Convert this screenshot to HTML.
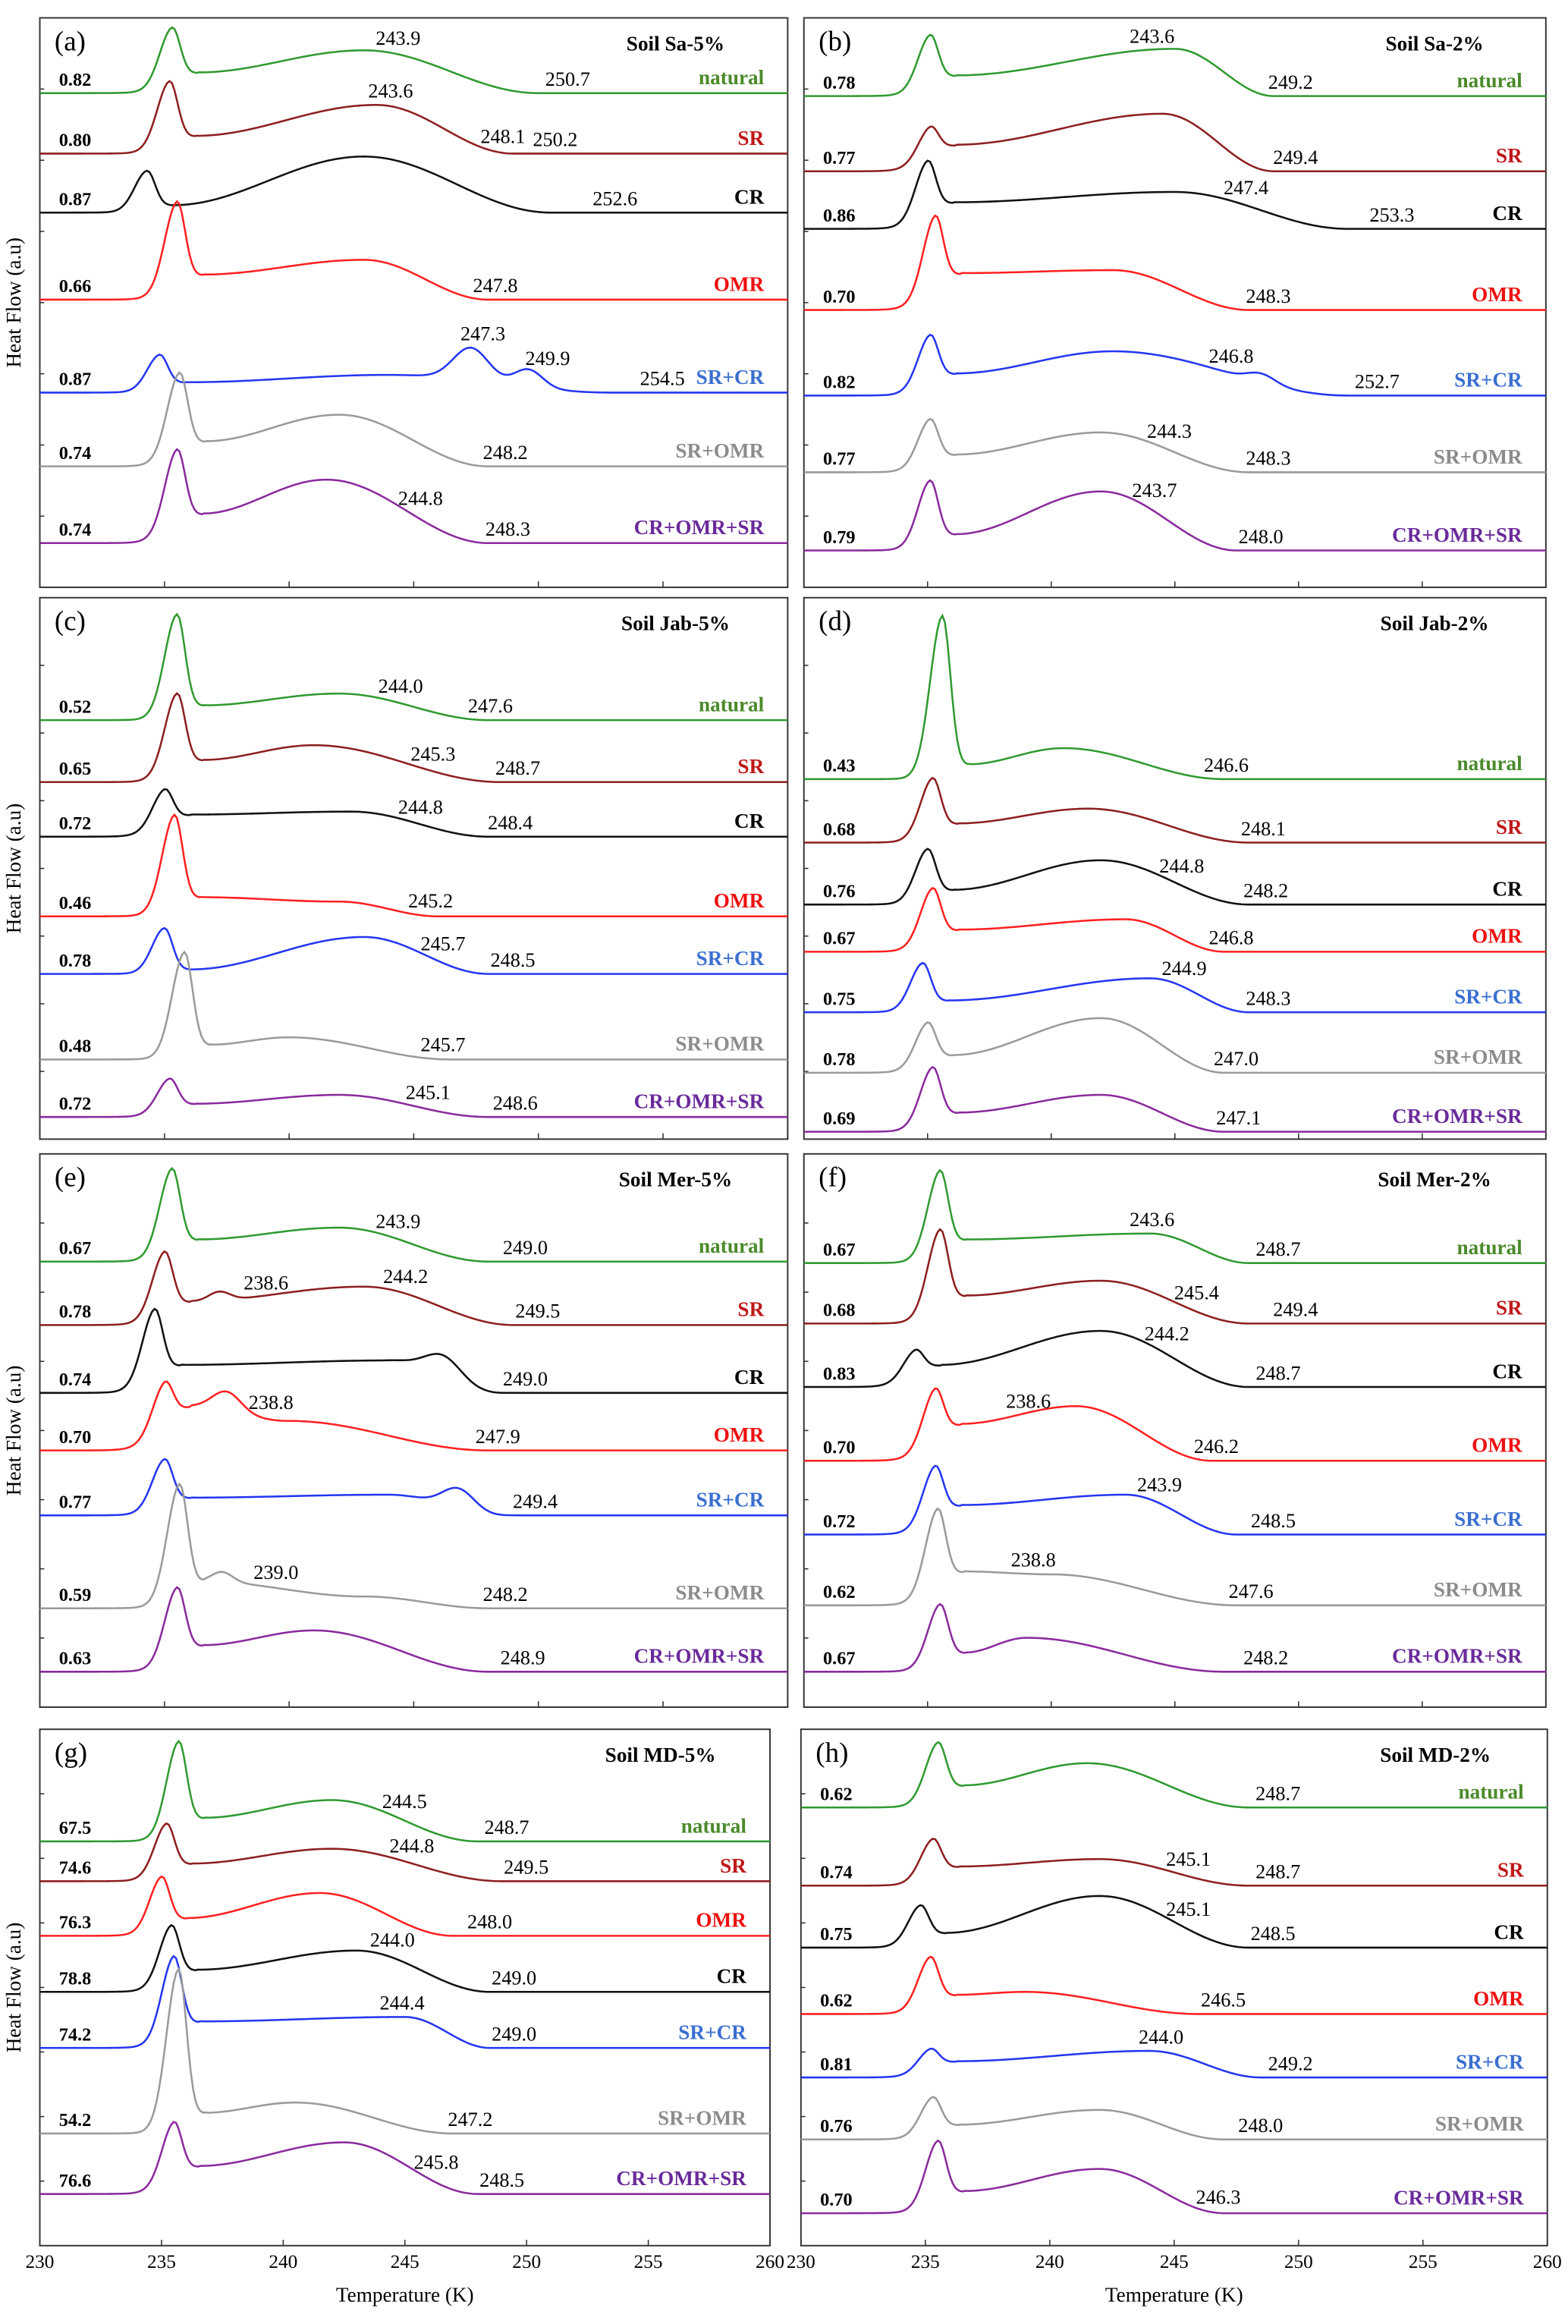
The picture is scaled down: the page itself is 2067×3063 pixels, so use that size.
<!DOCTYPE html>
<html><head><meta charset="utf-8">
<style>
html,body{margin:0;padding:0;background:#fff;}
svg{display:block;}
</style></head>
<body>
<svg id="fig" xmlns="http://www.w3.org/2000/svg" width="2067" height="3063" viewBox="0 0 1063 1575"></svg>
<script>
// ---- data ----
const panelLetters = ['a','b','c','d','e','f','g','h'];
const panelTitles = ['Soil Sa-5%','Soil Sa-2%','Soil Jab-5%','Soil Jab-2%','Soil Mer-5%','Soil Mer-2%','Soil MD-5%','Soil MD-2%'];
const seriesOrder = [
 ['natural','SR','CR','OMR','SR+CR','SR+OMR','CR+OMR+SR'],
 ['natural','SR','CR','OMR','SR+CR','SR+OMR','CR+OMR+SR'],
 ['natural','SR','CR','OMR','SR+CR','SR+OMR','CR+OMR+SR'],
 ['natural','SR','CR','OMR','SR+CR','SR+OMR','CR+OMR+SR'],
 ['natural','SR','CR','OMR','SR+CR','SR+OMR','CR+OMR+SR'],
 ['natural','SR','CR','OMR','SR+CR','SR+OMR','CR+OMR+SR'],
 ['natural','SR','OMR','CR','SR+CR','SR+OMR','CR+OMR+SR'],
 ['natural','SR','CR','OMR','SR+CR','SR+OMR','CR+OMR+SR']
];
const onsets = [
 ['0.82','0.80','0.87','0.66','0.87','0.74','0.74'],
 ['0.78','0.77','0.86','0.70','0.82','0.77','0.79'],
 ['0.52','0.65','0.72','0.46','0.78','0.48','0.72'],
 ['0.43','0.68','0.76','0.67','0.75','0.78','0.69'],
 ['0.67','0.78','0.74','0.70','0.77','0.59','0.63'],
 ['0.67','0.68','0.83','0.70','0.72','0.62','0.67'],
 ['67.5','74.6','76.3','78.8','74.2','54.2','76.6'],
 ['0.62','0.74','0.75','0.62','0.81','0.76','0.70']
];
const annotations = [
 [[243.9,250.7],[243.6,248.1,250.2],[252.6],[247.8],[247.3,249.9,254.5],[248.2],[244.8,248.3]],
 [[243.6,249.2],[249.4],[247.4,253.3],[248.3],[246.8,252.7],[244.3,248.3],[243.7,248.0]],
 [[244.0,247.6],[245.3,248.7],[244.8,248.4],[245.2],[245.7,248.5],[245.7],[245.1,248.6]],
 [[246.6],[248.1],[244.8,248.2],[246.8],[244.9,248.3],[247.0],[247.1]],
 [[243.9,249.0],[238.6,244.2,249.5],[249.0],[238.8,247.9],[249.4],[239.0,248.2],[248.9]],
 [[243.6,248.7],[245.4,249.4],[244.2,248.7],[238.6,246.2],[243.9,248.5],[238.8,247.6],[248.2]],
 [[244.5,248.7],[244.8,249.5],[248.0],[244.0,249.0],[244.4,249.0],[247.2],[245.8,248.5]],
 [[248.7],[245.1,248.7],[245.1,248.5],[246.5],[244.0,249.2],[248.0],[246.3]]
];
// curve shapes: [peakT, peakHeight, plateauAfterPeak, humpT, humpHeight, endT, extraBumps[[T,h,w]]]
const shapesA = [[235.3,49,14,243,29,250,[]],[235.2,53,12,243.5,33,249,[]],[234.3,30,5,243,38,250.5,[]],[235.5,72,17,243,27,248,[]],[234.8,28,7,244,12,253,[[247.3,22,1.0],[249.6,12,0.8]]],[235.6,69,17,242,35,248,[]],[235.5,70,20,241.5,43,248,[]]];
const shapesB = [[235.1,46,14,245,32,249,[]],[235.1,36,18,244.5,39,249,[]],[235.0,52,18,245,25,252,[]],[235.3,72,25,242.5,27,248,[]],[235.1,46,15,242.5,30,252,[[248.5,6,0.8]]],[235.1,40,12,242,27,248,[]],[235.1,51,11,242,40,247.5,[]]];
const shapesC = [[235.5,75,10,242,18,248,[]],[235.5,65,15,241,25,248.5,[]],[235.0,37,15,242.5,17,248,[]],[235.4,73,13,242,10,246,[]],[235.0,32,3,243,25,248,[]],[235.8,76,10,240,15,246.5,[]],[235.2,29,9,242,15,248,[]]];
const shapesD = [[235.6,114,10,240.5,21,247,[]],[235.2,48,13,241.5,23,248,[]],[235.0,41,10,242,30,248,[]],[235.2,48,15,243,22,247,[]],[234.8,36,8,244,23,248,[]],[235.0,38,12,242,37,247,[]],[235.2,48,13,242,25,247,[]]];
const shapesE = [[235.3,68,15,242,23,248,[]],[235.0,55,16,243,26,249,[[237.2,6,0.6]]],[234.6,63,19,244,22,248.5,[[246.2,14,1.0]]],[235.0,56,30,240,20,248,[[237.5,13,0.8]]],[235.0,42,12,244,14,248.5,[[246.8,14,0.9]]],[235.6,90,18,243,8,248,[[237.3,7,0.6]]],[235.5,63,18,241,28,248,[]]];
const shapesF = [[235.5,68,16,244,20,248,[]],[235.5,70,19,242,29,248,[]],[234.5,30,15,242,38,248,[]],[235.3,57,25,241,37,246.5,[]],[235.3,53,20,243,27,247.5,[]],[235.4,73,23,240,21,247.5,[]],[235.5,50,13,239,23,247,[]]];
const shapesG = [[235.7,73,16,242,28,248,[]],[235.2,43,12,242,22,249,[]],[235.0,44,12,241.5,29,247,[]],[235.4,50,15,243,28,248.5,[]],[235.5,68,18,245,21,248.5,[]],[235.7,116,14,240.5,21,247,[]],[235.5,55,19,242.5,35,248,[]]];
const shapesH = [[235.5,49,15,241.5,30,248,[]],[235.3,36,13,242,18,248,[]],[234.8,32,10,242,35,248,[]],[235.2,43,13,239,15,246,[]],[235.2,23,11,244,18,248.5,[]],[235.3,32,10,242,20,247,[]],[235.5,54,15,242,30,247,[]]];
const shapes = [shapesA,shapesB,shapesC,shapesD,shapesE,shapesF,shapesG,shapesH];
const baselines = [
 [63,104,144,203,266,316,368],[65,116,155,210,268,320,373],
 [488,530,567,621,660,718,757],[528,571,613,645,686,727,767],
 [855,898,944,983,1027,1090,1133],[856,897,940,990,1040,1088,1133],
 [1248,1275,1312,1350,1388,1446,1487],[1225,1278,1320,1365,1408,1450,1500]
];
const xTicks = [230,235,240,245,250,255,260];

// ---- layout ----
const boxes = [[27,534,12,398],[545,1048,12,398],[27,534,405,772],[545,1048,405,772],[27,534,782,1157],[545,1048,782,1157],[27,522,1172,1522],[543,1049,1172,1522]];
const lineColor = {'natural':'#2f9a2f','SR':'#8e1f1f','CR':'#111','OMR':'#ff2020','SR+CR':'#2436f0','SR+OMR':'#9a9a9a','CR+OMR+SR':'#8a2a9c'};
const textColor = {'natural':'#4a8a2a','SR':'#c01818','CR':'#000','OMR':'#ee1010','SR+CR':'#3a6fd0','SR+OMR':'#8c8c8c','CR+OMR+SR':'#6a2a9a'};
const NS='http://www.w3.org/2000/svg';
const svg=document.getElementById('fig');
function mk(tag,attrs,parent){const e=document.createElementNS(NS,tag);for(const k in attrs)e.setAttribute(k,attrs[k]);(parent||svg).appendChild(e);return e;}
function cosi(a,b,t){const u=(1-Math.cos(Math.PI*t))/2;return a+(b-a)*u;}
function sig(z){return 1/(1+Math.exp(-z));}
function height(T,s){
  const [Tp,hp,p1,Tb,hb,Te,ex]=s;
  const wp = T<Tp ? 0.7 : 0.45;
  let h=(hp-p1)*Math.exp(-Math.pow((T-Tp)/wp,2));
  const Ta=Tp+1.0;
  let pl;
  if(T<Ta) pl=p1*sig((T-Tp+0.3)/0.4);
  else if(T<Tb) pl=cosi(p1,hb,(T-Ta)/(Tb-Ta));
  else if(T<Te) pl=cosi(hb,0,(T-Tb)/(Te-Tb));
  else pl=0;
  h+=pl;
  for(const b of ex){h+=b[1]*Math.exp(-Math.pow((T-b[0])/b[2],2));}
  return h;
}
panelLetters.forEach((L,pi)=>{
  const [x0,x1,y0,y1]=boxes[pi];
  const xs=T=>x0+(T-230)/30*(x1-x0);
  const g=mk('g',{});
  
  
  const frame=mk('rect',{x:x0,y:y0,width:x1-x0,height:y1-y0,fill:'none',stroke:'#333','stroke-width':1},g);
  
  
  for(let k=1;k<8;k++){const ty=y0+(y1-y0)*k/8;const t=mk('line',{x1:x0,x2:x0+3,y1:ty,y2:ty,stroke:'#333','stroke-width':0.8},g);}
  xTicks.forEach(v=>{const t=mk('line',{x1:xs(v),x2:xs(v),y1:y1,y2:y1-4,stroke:'#333','stroke-width':0.8},g);});
  const pl=mk('text',{x:x0+10,y:y0+22,'font-family':'Liberation Serif, serif','font-size':19},g);pl.textContent='('+L+')';
  
  const tt=mk('text',{x:x0+(x1-x0)*0.85,y:y0+22,'text-anchor':'middle','font-family':'Liberation Serif, serif','font-size':14,'font-weight':'bold'},g);tt.textContent=panelTitles[pi];
  
  seriesOrder[pi].forEach((name,si)=>{
    const s=shapes[pi][si], base=baselines[pi][si];
    const yAt=T=>base-height(T,s);
    let d='';
    for(let T=230;T<=260.001;T+=0.1){d+=(d?'L':'M')+xs(T).toFixed(2)+','+yAt(T).toFixed(2);}
    const p=mk('path',{d:d,fill:'none',stroke:lineColor[name],'stroke-width':1.3},g);
    
    
    const on=mk('text',{x:x0+13,y:base-5,'font-family':'Liberation Serif, serif','font-size':12.5,'font-weight':'bold'},g);
    on.textContent=onsets[pi][si];
    
    const nm=mk('text',{x:x1-16,y:base-6,'text-anchor':'end','font-family':'Liberation Serif, serif','font-size':14,'font-weight':'bold',fill:textColor[name]},g);
    nm.textContent=name;
    
    annotations[pi][si].forEach(v=>{
      const a=mk('text',{x:xs(v)+8,y:yAt(v)-5,'text-anchor':'middle','font-family':'Liberation Serif, serif','font-size':13.5},g);
      a.textContent=v.toFixed(1);
      
    });
  });
  if(pi%2===0){
    const yt=mk('text',{x:0,y:0,transform:'translate(14,'+((y0+y1)/2)+') rotate(-90)','text-anchor':'middle','font-family':'Liberation Serif, serif','font-size':14},g);
    yt.textContent='Heat Flow (a.u)';
    
  }
  if(pi>=6){
    xTicks.forEach(v=>{const t=mk('text',{x:xs(v),y:y1+15,'text-anchor':'middle','font-family':'Liberation Serif, serif','font-size':13},g);t.textContent=v;
      });
    const xt=mk('text',{x:(x0+x1)/2,y:y1+38,'text-anchor':'middle','font-family':'Liberation Serif, serif','font-size':14},g);
    xt.textContent='Temperature (K)';
    
  }
});
</script>
</body></html>
